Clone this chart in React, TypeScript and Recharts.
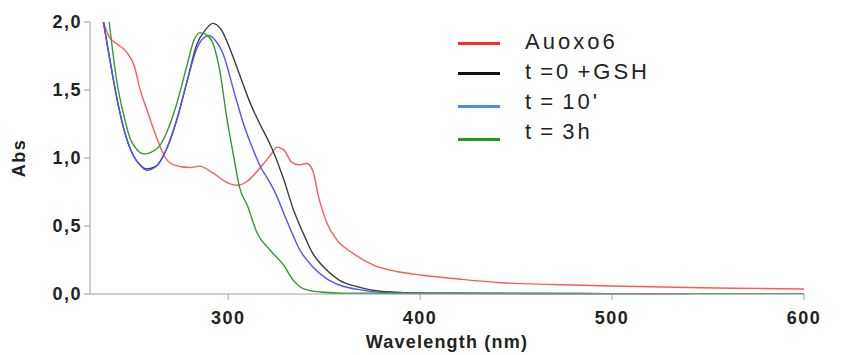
import React from 'react';
import { LineChart, Line, XAxis, YAxis, Label } from 'recharts';

// Auoxo6 (red)
const auoxoWl = [235, 238, 242, 247, 251, 254, 258.5, 263, 266.5, 271.5, 280, 285, 292, 297, 301, 305, 309, 313, 318, 322, 325.5, 329, 333, 337, 341, 344, 347, 351.5, 356.5, 365, 376, 388, 400, 420, 442, 470, 494, 520, 546, 575, 600];
const auoxoAbs = [2.0, 1.89, 1.84, 1.78, 1.68, 1.51, 1.32, 1.14, 1.02, 0.95, 0.93, 0.94, 0.89, 0.84, 0.81, 0.8, 0.82, 0.87, 0.95, 1.02, 1.08, 1.06, 0.97, 0.95, 0.96, 0.91, 0.72, 0.52, 0.4, 0.3, 0.21, 0.165, 0.14, 0.11, 0.083, 0.07, 0.061, 0.053, 0.046, 0.041, 0.037];

// t = 0 + GSH (black)
const gshWl = [235, 238.5, 242, 245.5, 250.5, 254, 257.5, 262.5, 268, 273, 278.5, 283.5, 288, 292, 296.5, 301, 306, 311, 316.5, 321.5, 324, 329, 334, 339, 344, 351, 358, 367, 379, 390, 400, 420, 460, 500, 540];
const gshAbs = [2.0, 1.71, 1.44, 1.22, 1.02, 0.95, 0.92, 0.94, 1.07, 1.27, 1.56, 1.83, 1.94, 1.99, 1.94, 1.8, 1.61, 1.42, 1.25, 1.11, 1.03, 0.84, 0.62, 0.45, 0.3, 0.18, 0.1, 0.054, 0.02, 0.012, 0.008, 0.005, 0.004, 0.003, 0.003];

// t = 10' (blue)
const t10Wl = [235, 238.5, 242, 245.5, 250.5, 254, 257.5, 262.5, 268, 273, 278.5, 283.5, 287, 290, 293, 297.5, 303, 308, 313, 317, 320, 324, 330.5, 337.5, 344, 351, 358, 369, 380, 400, 440, 500, 540];
const t10Abs = [2.0, 1.71, 1.44, 1.22, 1.02, 0.95, 0.91, 0.94, 1.07, 1.27, 1.56, 1.8, 1.88, 1.9, 1.87, 1.76, 1.49, 1.25, 1.06, 0.93, 0.86, 0.76, 0.54, 0.32, 0.2, 0.115, 0.066, 0.03, 0.012, 0.006, 0.004, 0.003, 0.003];

// t = 3h (green)
const t3hWl = [238, 242, 245.5, 249, 252, 256, 263, 268, 273, 278.5, 282, 285, 288, 291.5, 294, 296, 299, 303, 306, 310, 315, 322, 329, 334, 339, 348, 360, 400, 500, 600];
const t3hAbs = [2.0, 1.56, 1.32, 1.14, 1.07, 1.03, 1.07, 1.19, 1.39, 1.68, 1.86, 1.92, 1.91, 1.86, 1.75, 1.61, 1.32, 1.0, 0.78, 0.65, 0.45, 0.32, 0.21, 0.1, 0.04, 0.015, 0.006, 0.004, 0.003, 0.003];

const xTicks = [300, 400, 500, 600];
const yTicks = [0, 0.5, 1, 1.5, 2];

const toPoints = (wl: number[], abs: number[]) => wl.map((w, i) => ({ wl: w, abs: abs[i] }));

const series = [
  { name: 'Auoxo6', data: toPoints(auoxoWl, auoxoAbs), stroke: '#ff5a5a', legend: '#ff2a2a' },
  { name: 't =0 +GSH', data: toPoints(gshWl, gshAbs), stroke: '#3c3c3c', legend: '#111111' },
  { name: "t = 10'", data: toPoints(t10Wl, t10Abs), stroke: '#5252ff', legend: '#4a90e2' },
  { name: 't = 3h', data: toPoints(t3hWl, t3hAbs), stroke: '#339933', legend: '#1e9a1e' },
];

const legendLineShift = [1, 1, 4, 7];
const font = '"Liberation Sans", Arial, sans-serif';

const tickStyle = {
  fill: '#222',
  fontSize: 18,
  fontWeight: 700,
  fontFamily: font,
  letterSpacing: 1.5,
};

function ChartLegend() {
  return (
    <div style={{ position: 'absolute', left: 458, top: 27, fontFamily: font, color: '#222' }}>
      {series.map((s, i) => (
        <div key={s.name} style={{ position: 'relative', height: 30, width: 220 }}>
          <div
            style={{
              position: 'absolute',
              left: 0,
              top: 14 + legendLineShift[i],
              width: 42,
              height: 3,
              background: s.legend,
            }}
          />
          <span
            style={{
              position: 'absolute',
              left: 67,
              top: 0,
              fontSize: 22,
              lineHeight: '30px',
              letterSpacing: 3,
              wordSpacing: -3,
              whiteSpace: 'pre',
            }}
          >
            {s.name}
          </span>
        </div>
      ))}
    </div>
  );
}

function AbsLabel(props: any) {
  const { viewBox } = props;
  const cx = viewBox.x + 19;
  const cy = viewBox.y + viewBox.height / 2;
  return (
    <text
      x={cx}
      y={cy}
      transform={`rotate(-90, ${cx}, ${cy})`}
      textAnchor="middle"
      dominantBaseline="central"
      fill="#222"
      fontSize={18}
      fontWeight={700}
      fontFamily={font}
      letterSpacing={1.5}
    >
      Abs
    </text>
  );
}

export default function App() {
  return (
    <div style={{ position: 'absolute', left: 0, top: 0, width: 844, height: 355, background: '#fff' }}>
      <LineChart width={844} height={355} margin={{ top: 22, right: 40, left: 0, bottom: 0 }}>
        <XAxis
          type="number"
          dataKey="wl"
          domain={[228, 600]}
          ticks={xTicks}
          allowDataOverflow
          height={61}
          stroke="#a0a0a0"
          tickSize={6}
          tickMargin={11}
          tick={tickStyle}
        >
          <Label
            value="Wavelength (nm)"
            position="insideBottom"
            offset={7}
            fill="#222"
            fontSize={18}
            fontWeight={700}
            fontFamily={font}
            letterSpacing={1.2}
          />
        </XAxis>
        <YAxis
          type="number"
          domain={[0, 2]}
          ticks={yTicks}
          width={90}
          stroke="#a0a0a0"
          tickSize={6}
          tickMargin={2}
          tick={tickStyle}
          tickFormatter={(v: number) => v.toFixed(1).replace('.', ',')}
        >
          <Label content={<AbsLabel />} />
        </YAxis>
        {series.map((s) => (
          <Line
            key={s.name}
            name={s.name}
            data={s.data}
            dataKey="abs"
            type="monotone"
            stroke={s.stroke}
            strokeWidth={1.4}
            dot={false}
            isAnimationActive={false}
          />
        ))}
      </LineChart>
      <ChartLegend />
    </div>
  );
}
